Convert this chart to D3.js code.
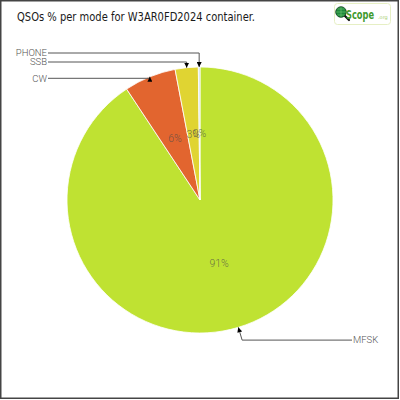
<!DOCTYPE html>
<html>
<head>
<meta charset="utf-8">
<script src="https://cdn.jsdelivr.net/npm/d3@7"></script>
<style>
  body { margin: 0; background: #fff; }
  svg { display: block; }
</style>
</head>
<body>
<script>
// data (QSO counts per mode, shares ~90.7 / 6.3 / 2.8 / 0.2 %)
var modes = ["MFSK", "CW", "SSB", "PHONE"];
var qsos = [907, 63, 28, 2];
var colors = ["#bfe232", "#e2652f", "#e0d432", "#c9dde2"];
var title = "QSOs % per mode for W3AR0FD2024 container.";

var W = 400, H = 400;
var cx = 200, cy = 200, r = 133;
var labelGap = 152;     // distance of label column from the centre

var svg = d3.select("body").append("svg").attr("width", W).attr("height", H);

svg.append("defs").append("marker")
    .attr("id", "arrow")
    .attr("viewBox", "0 0 10 10")
    .attr("refX", 10).attr("refY", 5)
    .attr("markerWidth", 5).attr("markerHeight", 5)
    .attr("markerUnits", "userSpaceOnUse")
    .attr("orient", "auto")
  .append("path")
    .attr("d", "M0,0L10,5L0,10Z")
    .attr("fill", "#000");

// frame
svg.append("rect")
    .attr("x", 0.75).attr("y", 0.75)
    .attr("width", 397.5).attr("height", 397.5)
    .attr("fill", "#fff")
    .attr("stroke", "#444").attr("stroke-width", 1.5);

// title
svg.append("text")
    .attr("x", 17).attr("y", 21)
    .attr("font-family", "'DejaVu Sans Condensed', 'DejaVu Sans', sans-serif")
    .attr("font-size", 11.5)
    .attr("fill", "#1a1a1a")
    .attr("textLength", 238)
    .attr("lengthAdjust", "spacingAndGlyphs")
    .text(title);

// logo
var logo = svg.append("g");
logo.append("rect")
    .attr("x", 334.5).attr("y", 3.5).attr("width", 56).attr("height", 21).attr("rx", 3)
    .attr("fill", "#fff").attr("stroke", "#e6efc4");
logo.append("line")
    .attr("x1", 343).attr("y1", 14).attr("x2", 349).attr("y2", 20)
    .attr("stroke", "#111").attr("stroke-width", 2.2).attr("stroke-linecap", "round");
logo.append("circle")
    .attr("cx", 341).attr("cy", 12).attr("r", 5.3)
    .attr("fill", "#1f8a3c").attr("stroke", "#0c3d1a").attr("stroke-width", 0.8);
logo.append("path")
    .attr("d", "M336,12H346M341,7V17M337.5,9H344.5M337.5,15H344.5")
    .attr("stroke", "#7fd27f").attr("stroke-width", 0.5).attr("fill", "none");
logo.append("text")
    .attr("x", 346).attr("y", 18.5)
    .attr("font-family", "'Liberation Sans Narrow', 'DejaVu Sans Condensed', sans-serif")
    .attr("font-weight", "bold").attr("font-size", 12)
    .attr("fill", "#3f9a2e")
    .attr("textLength", 28).attr("lengthAdjust", "spacingAndGlyphs")
    .text("Scope");
logo.append("text")
    .attr("x", 378).attr("y", 19)
    .attr("font-family", "'DejaVu Sans', sans-serif")
    .attr("font-size", 5)
    .attr("fill", "#a9cf72")
    .text(".org");

// pie
var data = modes.map(function(m, i) { return { mode: m, value: qsos[i], color: colors[i] }; });
var total = d3.sum(qsos);

var pie = d3.pie().value(function(d) { return d.value; }).sort(null);
var arc = d3.arc().innerRadius(0).outerRadius(r);
var arcs = pie(data);

var g = svg.append("g").attr("transform", "translate(" + cx + "," + cy + ")");

g.selectAll("path.slice")
  .data(arcs)
  .enter().append("path")
    .attr("class", "slice")
    .attr("d", arc)
    .attr("fill", function(d) { return d.data.color; })
    .attr("stroke", "#fff")
    .attr("stroke-width", 0.8);

var fmt = function(v) { return Math.round(v / total * 100) + "%"; };

g.selectAll("text.pct")
  .data(arcs)
  .enter().append("text")
    .attr("class", "pct")
    .attr("transform", function(d) { return "translate(" + arc.centroid(d) + ")"; })
    .attr("text-anchor", "middle")
    .attr("dy", "0.35em")
    .attr("font-family", "Roboto, sans-serif")
    .attr("font-weight", 300)
    .attr("font-size", 10.5)
    .attr("fill", "#4a4a4a")
    .attr("fill-opacity", 0.75)
    .text(function(d) { return fmt(d.data.value); });

// callout layout: tip on the rim at the mid angle
arcs.forEach(function(d) {
  var a = (d.startAngle + d.endAngle) / 2;
  d.mid = a;
  d.tipX = r * Math.sin(a);
  d.tipY = -r * Math.cos(a);
  d.left = d.tipX < 0;
});

// right side: elbow at 1.1r, then horizontal
arcs.filter(function(d) { return !d.left; }).forEach(function(d) {
  d.ex = 1.1 * r * Math.sin(d.mid);
  d.ly = -1.1 * r * Math.cos(d.mid);
  d.lx = labelGap;
});

// left side: horizontal at the tip; crowded labels are lifted above the pie
var spacing = 10;
var left = arcs.filter(function(d) { return d.left; })
    .sort(function(a, b) { return b.tipY - a.tipY; });
var prev = null;
left.forEach(function(d) {
  d.ex = d.tipX;
  d.ly = d.tipY + 1.5;
  if (prev && prev.ly - d.ly < spacing) {
    d.ly = Math.min(-r - 5, prev.ly - 9);
  }
  d.lx = -labelGap;
  prev = d;
});

g.selectAll("path.leader")
  .data(arcs)
  .enter().append("path")
    .attr("class", "leader")
    .attr("fill", "none")
    .attr("stroke", "#555")
    .attr("stroke-width", 1)
    .attr("marker-end", "url(#arrow)")
    .attr("d", function(d) {
      return "M" + d.lx + "," + d.ly + "L" + d.ex + "," + d.ly + "L" + d.tipX + "," + d.tipY;
    });

g.selectAll("text.callout")
  .data(arcs)
  .enter().append("text")
    .attr("class", "callout")
    .attr("x", function(d) { return d.left ? d.lx - 1 : d.lx + 1; })
    .attr("y", function(d) { return d.ly; })
    .attr("dy", "0.35em")
    .attr("text-anchor", function(d) { return d.left ? "end" : "start"; })
    .attr("font-family", "Roboto, sans-serif")
    .attr("font-weight", 300)
    .attr("font-size", 9.5)
    .attr("fill", "#555")
    .text(function(d) { return d.data.mode; });
</script>
</body>
</html>
